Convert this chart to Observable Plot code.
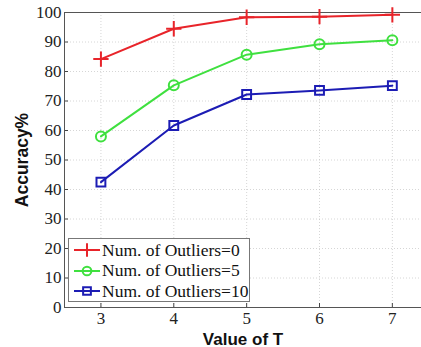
<!DOCTYPE html>
<html><head><meta charset="utf-8">
<script src="https://cdn.jsdelivr.net/npm/d3@7"></script>
<script src="https://cdn.jsdelivr.net/npm/@observablehq/plot@0.6"></script>
<style>
body{margin:0;background:#fff;}
#wrap{position:relative;width:421px;height:347px;}
#legend{position:absolute;left:68px;top:238px;width:182px;height:64px;border:1px solid #777;background:#fff;box-sizing:border-box;font-family:"Liberation Serif","Times New Roman",serif;font-size:17.5px;color:#111;padding-top:1px;}
#legend .row{display:flex;align-items:center;height:20.5px;white-space:nowrap;}
#legend svg{margin-left:4px;margin-right:1px;}
</style></head>
<body><div id="wrap"><div id="chart"></div><div id="legend"></div></div>
<script>
const T = [3, 4, 5, 6, 7];
const series = ["Num. of Outliers=0", "Num. of Outliers=5", "Num. of Outliers=10"];
const acc0 = [84.2, 94.5, 98.4, 98.6, 99.2];
const acc5 = [58.0, 75.3, 85.7, 89.2, 90.6];
const acc10 = [42.5, 61.7, 72.2, 73.6, 75.2];
const colors = ["#e8242a", "#3fe03f", "#1c1cb4"];
const symbols = ["plus", "circle", "square"];
const yTicks = [0,10,20,30,40,50,60,70,80,90,100];

const data = [];
[acc0, acc5, acc10].forEach((arr, i) => arr.forEach((v, j) => data.push({T: T[j], acc: v, s: series[i]})));

const chart = Plot.plot({
  width: 421, height: 347,
  marginLeft: 64, marginTop: 12, marginBottom: 40, marginRight: 0,
  style: {fontFamily: "'Liberation Serif','Times New Roman',serif", fontSize: "17px", color: "#222", background: "#fff"},
  x: {domain: [2.5, 7.4], ticks: T, label: null},
  y: {domain: [0, 100], ticks: yTicks, label: null},
  color: {domain: series, range: colors},
  symbol: {domain: series, range: symbols},
  marks: [
    Plot.gridX(T, {stroke: "#bbb", strokeOpacity: 0.6, strokeDasharray: "1,2"}),
    Plot.gridY(yTicks, {stroke: "#bbb", strokeOpacity: 0.6, strokeDasharray: "1,2"}),
    Plot.axisX({ticks: T, tickFormat: "d", tickSize: -4, tickPadding: 8, stroke: "#444"}),
    Plot.axisY({ticks: yTicks, tickFormat: "d", tickSize: -4, tickPadding: 7, stroke: "#444"}),
    Plot.frame({stroke: "#555"}),
    Plot.line(data, {x: "T", y: "acc", z: "s", stroke: "s", strokeWidth: 2}),
    Plot.dot(data, {x: "T", y: "acc", stroke: "s", symbol: "s", r: 5, strokeWidth: 2, fill: "none"}),
    Plot.text(["Value of T"], {frameAnchor: "bottom", dy: 37, fontFamily: "'Liberation Sans',Arial,sans-serif", fontWeight: "bold", fontSize: 17, fill: "#111"}),
    Plot.text(["Accuracy%"], {frameAnchor: "left", dx: -42, rotate: -90, textAnchor: "middle", fontFamily: "'Liberation Sans',Arial,sans-serif", fontWeight: "bold", fontSize: 17.5, fill: "#111"})
  ]
});
document.getElementById("chart").appendChild(chart);

const leg = document.getElementById("legend");
series.forEach((s, i) => {
  const row = document.createElement("div");
  row.className = "row";
  const svg = d3.create("svg").attr("width", 28).attr("height", 14);
  svg.append("line").attr("x1", 1).attr("x2", 27).attr("y1", 7).attr("y2", 7).attr("stroke", colors[i]).attr("stroke-width", 2);
  const sym = i === 0 ? d3.symbolPlus : i === 1 ? d3.symbolCircle : d3.symbolSquare;
  svg.append("path").attr("d", d3.symbol(sym, 60)()).attr("transform", "translate(14,7)").attr("fill", "none").attr("stroke", colors[i]).attr("stroke-width", 2);
  row.appendChild(svg.node());
  const t = document.createElement("span");
  t.textContent = s;
  row.appendChild(t);
  leg.appendChild(row);
});
</script></body></html>
